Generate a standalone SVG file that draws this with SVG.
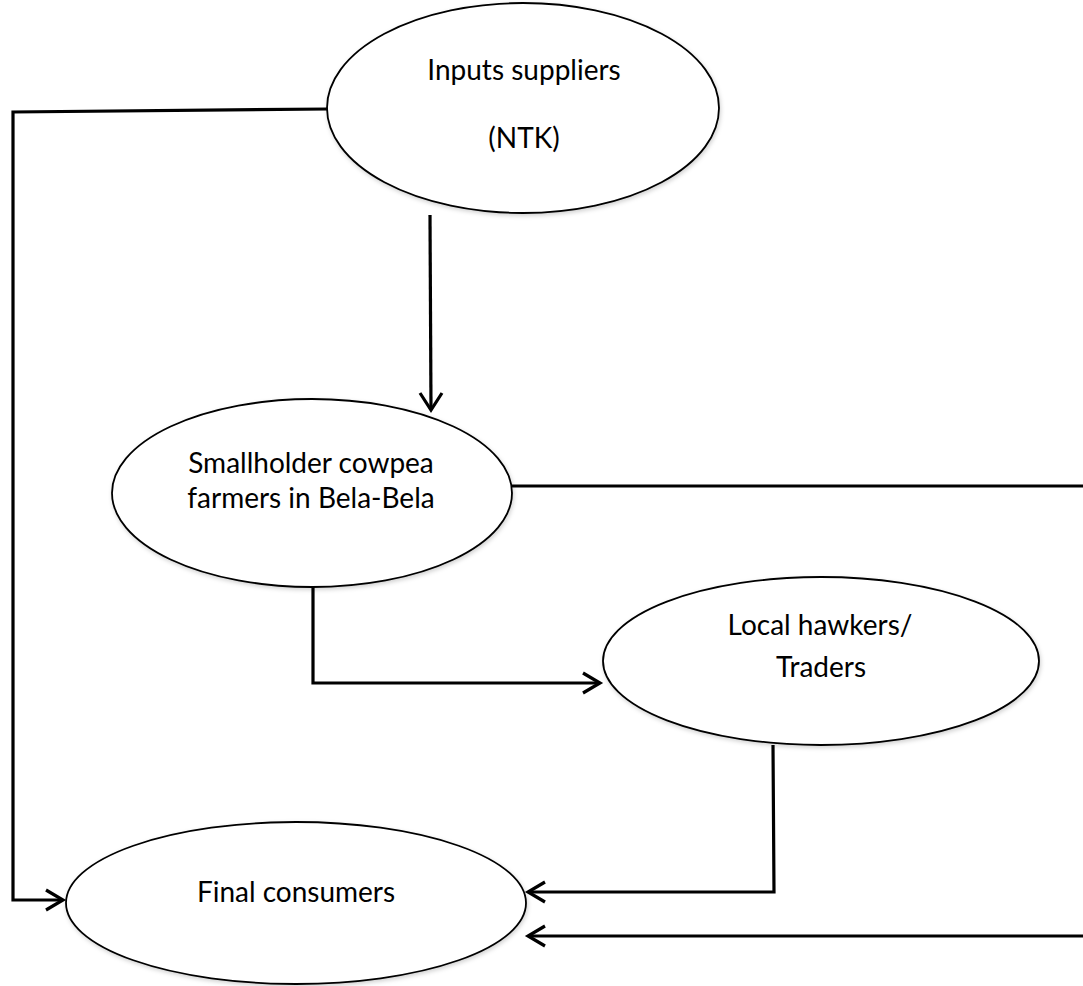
<svg xmlns="http://www.w3.org/2000/svg" width="1083" height="986" viewBox="0 0 1083 986">
<defs>
<filter id="sh" x="-10%" y="-10%" width="120%" height="130%">
<feDropShadow dx="1" dy="2" stdDeviation="2" flood-color="#000" flood-opacity="0.18"/>
</filter>
</defs>
<style>
.node ellipse{fill:#fff;stroke:#000;stroke-width:1.8;filter:url(#sh)}
.node text{font-family:Lato,"Open Sans","Liberation Sans",sans-serif;font-size:28px;fill:#000;text-anchor:middle}
.conn{fill:none;stroke:#000;stroke-width:3.2;stroke-linejoin:miter}
.head{fill:none;stroke:#000;stroke-width:3.2;stroke-linecap:butt}
</style>
<rect width="1083" height="986" fill="#fff"/>
<g id="n-inputs" class="node">
<ellipse cx="523" cy="108" rx="196" ry="105"/>
<text x="524" y="80">Inputs suppliers</text>
<text x="524" y="148">(NTK)</text>
</g>
<g id="n-smallholder" class="node">
<ellipse cx="312" cy="493" rx="200" ry="94"/>
<text x="311" y="473">Smallholder cowpea</text>
<text x="311" y="508">farmers in Bela-Bela</text>
</g>
<g id="n-hawkers" class="node">
<ellipse cx="821" cy="661" rx="218" ry="84"/>
<text x="820" y="635">Local hawkers/</text>
<text x="821" y="677">Traders</text>
</g>
<g id="n-consumers" class="node">
<ellipse cx="296" cy="903" rx="230" ry="81"/>
<text x="296" y="902">Final consumers</text>
</g>
<g id="connectors">
<polyline class="conn" points="328,109 13,112 13,900 62,900"/>
<polyline class="head" points="46,890 63,900 46,910"/>
<line class="conn" x1="430" y1="215" x2="431" y2="409"/>
<polyline class="head" points="420,393 431,410 442,393"/>
<polyline class="conn" points="313,587 313,683 599,683"/>
<polyline class="head" points="583,673 600,683 583,693"/>
<polyline class="conn" points="773,745 774,892 529,892"/>
<polyline class="head" points="545,882 528,892 545,902"/>
<line class="conn" x1="512" y1="486" x2="1083" y2="486"/>
<line class="conn" x1="1083" y1="936" x2="529" y2="936"/>
<polyline class="head" points="545,926 528,936 545,946"/>
</g>
</svg>
